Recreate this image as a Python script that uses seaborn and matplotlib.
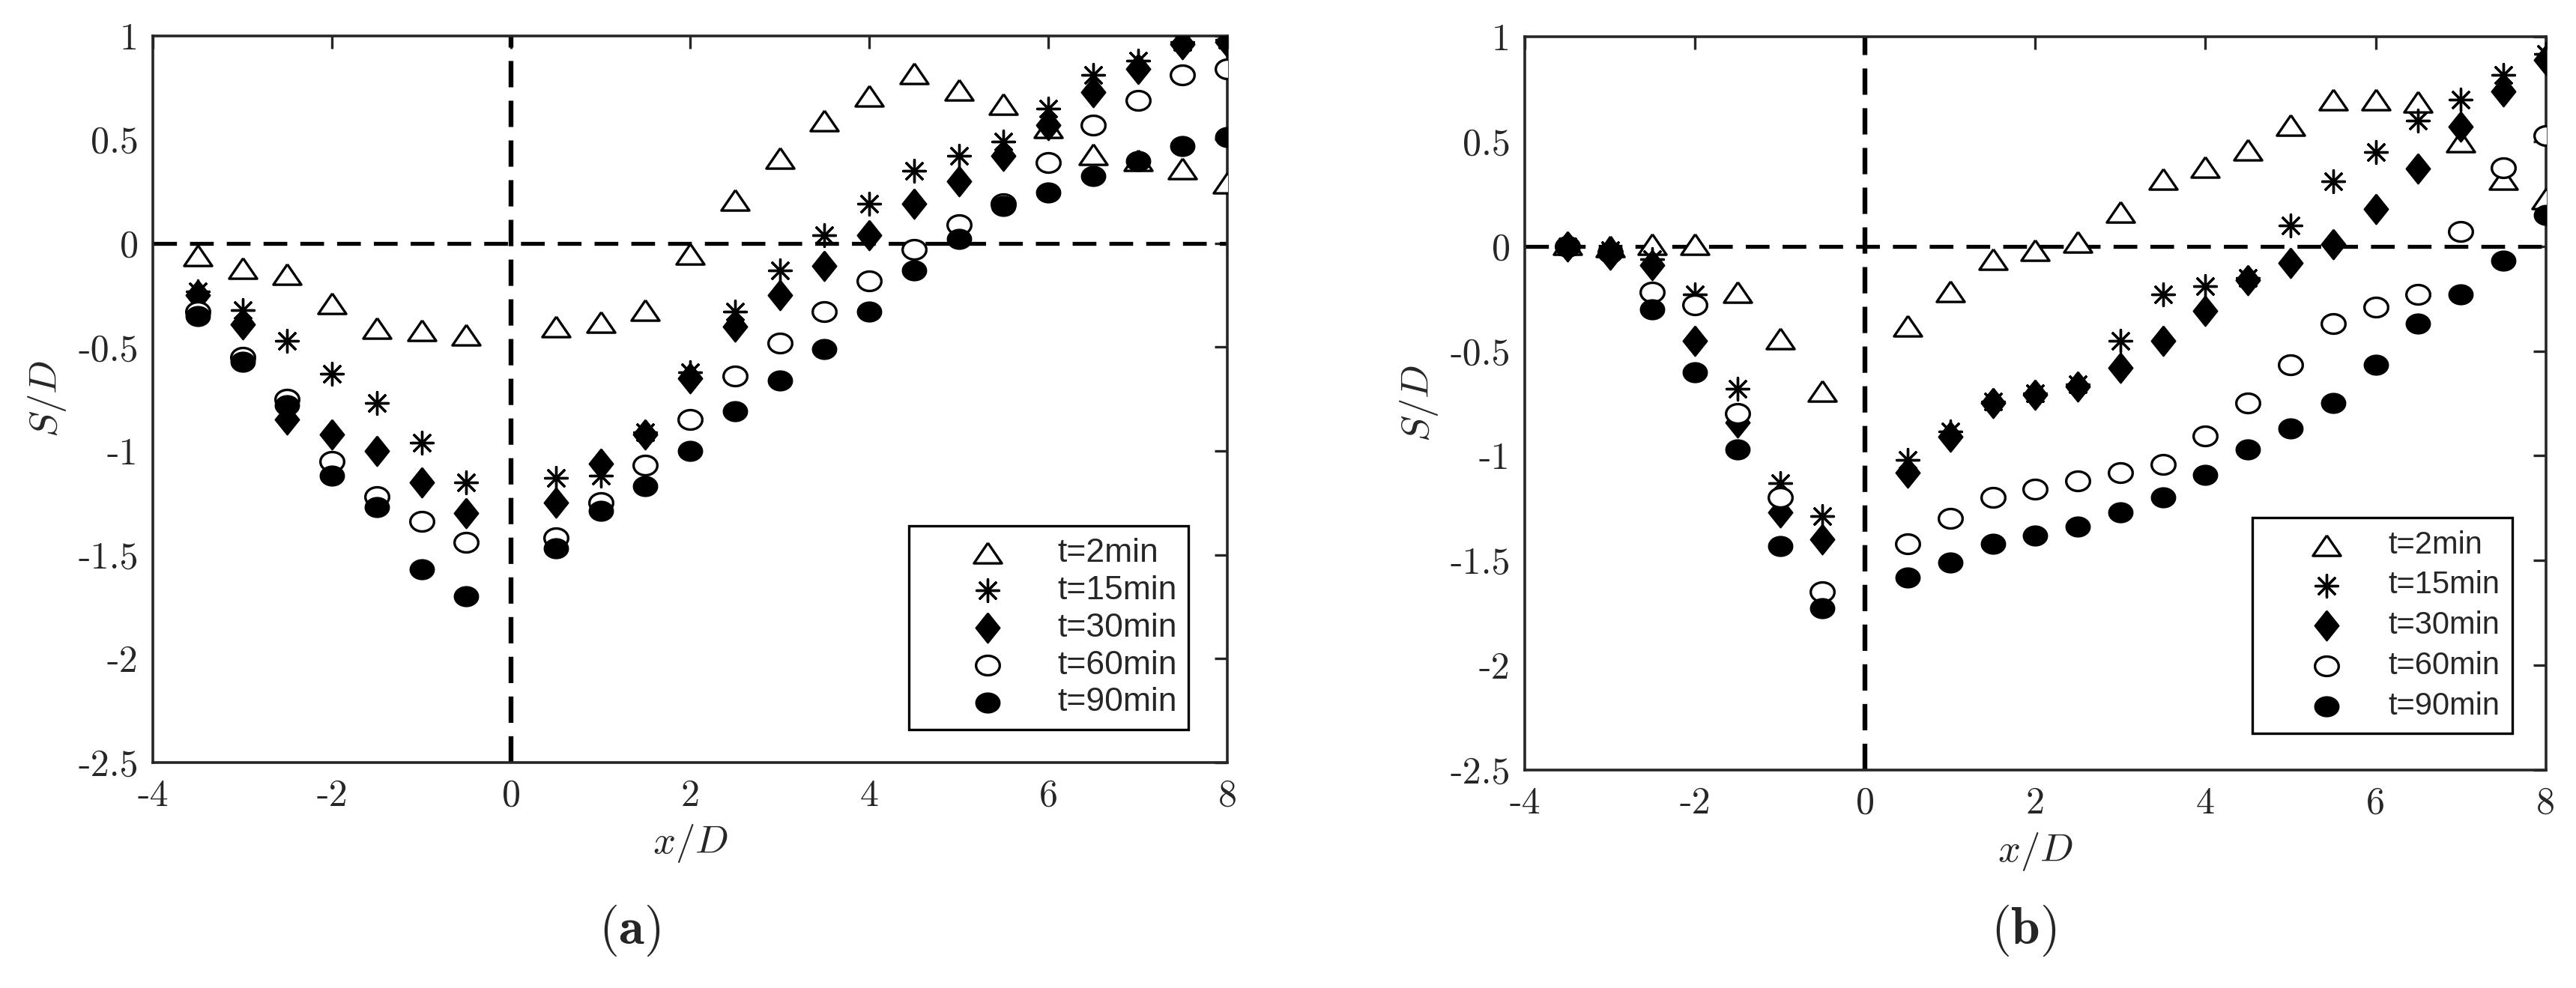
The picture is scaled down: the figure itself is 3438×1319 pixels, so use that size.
import numpy as np
import matplotlib
matplotlib.use("Agg")
import matplotlib.pyplot as plt
from matplotlib.markers import MarkerStyle
import seaborn as sns

# --- data ---
x_pos = [-3.5, -3, -2.5, -2, -1.5, -1, -0.5,
         0.5, 1, 1.5, 2, 2.5, 3, 3.5, 4, 4.5, 5, 5.5, 6, 6.5, 7, 7.5, 8]
series_labels = ["t=2min", "t=15min", "t=30min", "t=60min", "t=90min"]

# panel (a)
a_t2 = [-0.06, -0.12, -0.15, -0.29, -0.41, -0.42, -0.44,
        -0.40, -0.38, -0.32, -0.05, 0.21, 0.41, 0.59, 0.71, 0.82, 0.74, 0.67, 0.56, 0.43, 0.40, 0.36, 0.29]
a_t15 = [-0.23, -0.32, -0.47, -0.63, -0.77, -0.96, -1.15,
         -1.13, -1.12, -0.91, -0.62, -0.33, -0.13, 0.04, 0.19, 0.35, 0.42, 0.49, 0.65, 0.81, 0.88, 0.97, 0.98]
a_t30 = [-0.25, -0.39, -0.85, -0.92, -1.00, -1.15, -1.30,
         -1.25, -1.06, -0.92, -0.65, -0.40, -0.25, -0.11, 0.04, 0.19, 0.30, 0.42, 0.57, 0.73, 0.84, 0.96, 0.97]
a_t60 = [-0.33, -0.55, -0.75, -1.05, -1.22, -1.34, -1.44,
         -1.42, -1.25, -1.07, -0.85, -0.64, -0.48, -0.33, -0.18, -0.03, 0.09, 0.19, 0.39, 0.57, 0.69, 0.81, 0.84]
a_t90 = [-0.35, -0.57, -0.78, -1.12, -1.27, -1.57, -1.70,
         -1.47, -1.29, -1.17, -1.00, -0.81, -0.66, -0.51, -0.33, -0.13, 0.02, 0.18, 0.245, 0.325, 0.395, 0.47, 0.51]

# panel (b)
b_t2 = [0.01, 0.0, 0.01, 0.01, -0.22, -0.44, -0.69,
        -0.38, -0.215, -0.06, -0.02, 0.02, 0.165, 0.32, 0.38, 0.46, 0.58, 0.70, 0.70, 0.69, 0.50, 0.32, 0.23]
b_t15 = [0.0, -0.02, -0.06, -0.23, -0.68, -1.13, -1.29,
         -1.02, -0.885, -0.74, -0.70, -0.66, -0.45, -0.23, -0.19, -0.15, 0.10, 0.31, 0.45, 0.60, 0.70, 0.82, 0.92]
b_t30 = [0.0, -0.04, -0.09, -0.45, -0.84, -1.27, -1.40,
         -1.08, -0.91, -0.75, -0.71, -0.67, -0.58, -0.45, -0.31, -0.16, -0.08, 0.01, 0.18, 0.37, 0.57, 0.74, 0.89]
b_t60 = [0.0, -0.03, -0.22, -0.28, -0.80, -1.20, -1.65,
         -1.42, -1.30, -1.20, -1.16, -1.12, -1.08, -1.04, -0.905, -0.75, -0.565, -0.37, -0.29, -0.23, 0.07, 0.375, 0.53]
b_t90 = [0.0, -0.03, -0.30, -0.60, -0.97, -1.43, -1.73,
         -1.58, -1.51, -1.42, -1.38, -1.34, -1.27, -1.20, -1.09, -0.97, -0.87, -0.75, -0.565, -0.37, -0.23, -0.07, 0.15]

xtick_vals = [-4, -2, 0, 2, 4, 6, 8]
xtick_labels = ["-4", "-2", "0", "2", "4", "6", "8"]
ytick_vals = [-2.5, -2, -1.5, -1, -0.5, 0, 0.5, 1]
ytick_labels = ["-2.5", "-2", "-1.5", "-1", "-0.5", "0", "0.5", "1"]
panel_tags = [r"$(\mathbf{a})$", r"$(\mathbf{b})$"]

# --- styling ---
sns.set_style("white")
plt.rcParams["font.family"] = ["Liberation Sans", "DejaVu Sans"]
plt.rcParams["mathtext.fontset"] = "cm"
plt.rcParams["axes.unicode_minus"] = False
INK = "#262626"

# MATLAB-like markers (slightly wide, as in the exported figure)
theta = np.linspace(0, 2 * np.pi, 64)
ellipse = MarkerStyle(np.column_stack([np.cos(theta), 0.82 * np.sin(theta)]))
triangle = MarkerStyle(np.array([(0, 0.73), (-1, -0.73), (1, -0.73), (0, 0.73)]))
diamond = MarkerStyle(np.array([(0, 1), (0.8, 0), (0, -1), (-0.8, 0), (0, 1)]))

styles = [
    dict(marker=triangle, s=180, color="white", edgecolor="black", linewidth=1.2),
    dict(marker=(8, 2, 0), s=115, color="black", linewidth=1.2),
    dict(marker=diamond, s=205, color="black", edgecolor="black", linewidth=0.8),
    dict(marker=ellipse, s=130, color="white", edgecolor="black", linewidth=1.2),
    dict(marker=ellipse, s=130, color="black", edgecolor="black", linewidth=0.8),
]

panels = [
    dict(series=[a_t2, a_t15, a_t30, a_t60, a_t90],
         rect=[0.05934, 0.22843, 0.41710, 0.73541],
         ylab_x=-0.098, leg_anchor=(0.9637, 0.0451), leg_size=16,
         leg_kw=dict(borderpad=0.35, handlelength=4.0, handletextpad=0.1, labelspacing=0.2),
         tag_x=840 / 3438),
    dict(series=[b_t2, b_t15, b_t30, b_t60, b_t90],
         rect=[0.59191, 0.22085, 0.39636, 0.74178],
         ylab_x=-0.1035, leg_anchor=(0.9672, 0.0498), leg_size=15,
         leg_kw=dict(borderpad=0.39, handlelength=3.97, handletextpad=0.0, labelspacing=0.33),
         tag_x=2701 / 3438),
]

fig = plt.figure(figsize=(17.19, 6.595), dpi=200)

for k, p in enumerate(panels):
    ax = fig.add_axes(p["rect"])

    # reference lines
    ax.axhline(0, color="black", lw=1.9, ls=(0, (6.0, 3.3)), zorder=1)
    ax.axvline(0, color="black", lw=2.3, ls=(0, (5.5, 2.8)), zorder=1)

    for vals, lab, st in zip(p["series"], series_labels, styles):
        sns.scatterplot(x=x_pos, y=vals, ax=ax, label=lab, legend=False, zorder=3, **st)

    ax.set_xlim(-4, 8)
    ax.set_ylim(-2.5, 1)
    ax.set_xticks(xtick_vals)
    ax.set_xticklabels(xtick_labels, fontfamily="cmr10", fontsize=18, color=INK)
    ax.set_yticks(ytick_vals)
    ax.set_yticklabels(ytick_labels, fontfamily="cmr10", fontsize=18, color=INK)
    ax.tick_params(direction="in", length=6, width=1.2, top=True, right=True, color=INK)
    ax.tick_params(axis="x", pad=8)
    ax.tick_params(axis="y", pad=7)
    for sp in ax.spines.values():
        sp.set_visible(True)
        sp.set_color(INK)
        sp.set_linewidth(1.3)

    ax.set_xlabel(r"$x/D$", fontsize=19, color=INK)
    ax.xaxis.set_label_coords(0.5, -0.112)
    ax.xaxis.label.set_verticalalignment("center")
    ax.set_ylabel(r"$S/D$", fontsize=19, color=INK)
    ax.yaxis.set_label_coords(p["ylab_x"], 0.5)
    ax.yaxis.label.set_verticalalignment("center")

    leg = ax.legend(loc="lower right", bbox_to_anchor=p["leg_anchor"], borderaxespad=0,
                    fancybox=False, framealpha=1, edgecolor="black", scatterpoints=1,
                    prop={"family": "Liberation Sans", "size": p["leg_size"]}, **p["leg_kw"])
    leg.get_frame().set_linewidth(1.2)

    fig.text(p["tag_x"], 1 - 1242 / 1319, panel_tags[k], ha="center", va="center",
             fontsize=25, color=INK)

fig.savefig("out.png", dpi=200)
